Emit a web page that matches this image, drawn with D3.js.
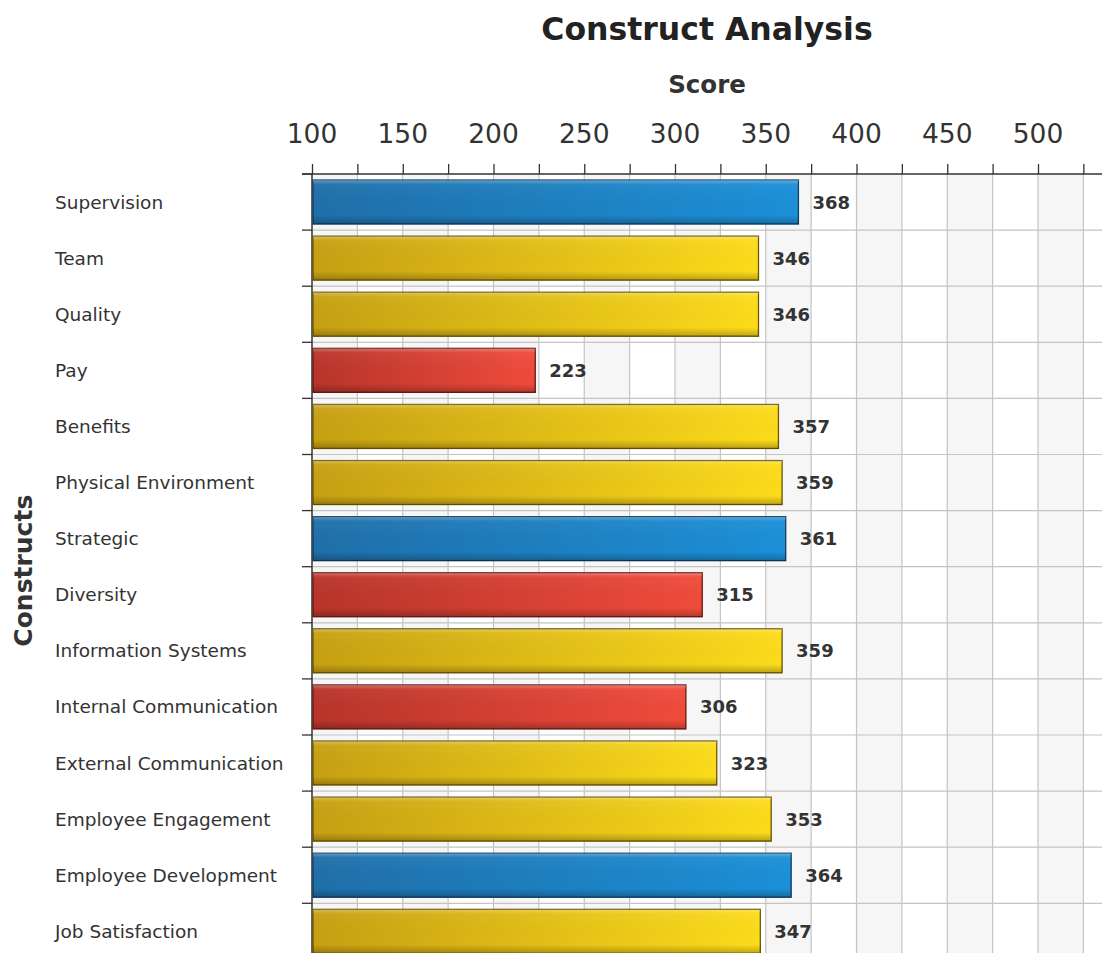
<!DOCTYPE html>
<html><head><meta charset="utf-8">
<script src="https://cdn.jsdelivr.net/npm/d3@7"></script>
<style>html,body{margin:0;padding:0;background:#fff;overflow:hidden}</style>
</head><body><svg id="c" width="1102" height="953"></svg>
<script>
const categories = ["Supervision","Team","Quality","Pay","Benefits","Physical Environment","Strategic","Diversity","Information Systems","Internal Communication","External Communication","Employee Engagement","Employee Development","Job Satisfaction"];
const scores = [368,346,346,223,357,359,361,315,359,306,323,353,364,347];
const colorGroups = ["blue","yellow","yellow","red","yellow","yellow","blue","red","yellow","red","yellow","yellow","blue","yellow"];
const xTicks = [100,125,150,175,200,225,250,275,300,325,350,375,400,425,450,475,500,525];
const xTickLabels = [100,150,200,250,300,350,400,450,500];
const chartTitle = "Construct Analysis", xTitle = "Score", yTitle = "Constructs";

const svg = d3.select("#c");
const F = "'DejaVu Sans', Verdana, sans-serif";
const pLeft = 312, pTop = 174, step = 56.1;
const x = d3.scaleLinear().domain([100, 540]).range([pLeft, pLeft + 440 * 1.815]);
const y = d3.scaleBand().domain(categories).range([pTop, pTop + step * categories.length]).paddingInner(0.216).paddingOuter(0.108);
const pRight = 1102, pBottom = 953;

const palette = {
  blue:   {l:"#1f6fa9", r:"#1b90d8", s:"#0e3b60"},
  yellow: {l:"#c6a012", r:"#fcdc1a", s:"#6a5500"},
  red:    {l:"#b8342a", r:"#f04b3b", s:"#6a1810"}
};
const defs = svg.append("defs");
Object.entries(palette).forEach(([k, c]) => {
  const g = defs.append("linearGradient").attr("id", "g-" + k).attr("x1", 0).attr("x2", 1).attr("y1", 0).attr("y2", 0);
  g.append("stop").attr("offset", 0).attr("stop-color", c.l);
  g.append("stop").attr("offset", 1).attr("stop-color", c.r);
});
const bev = defs.append("linearGradient").attr("id", "bevel").attr("x1", 0).attr("x2", 0).attr("y1", 0).attr("y2", 1);
bev.append("stop").attr("offset", 0).attr("stop-color", "#fff").attr("stop-opacity", 0.3);
bev.append("stop").attr("offset", 0.1).attr("stop-color", "#fff").attr("stop-opacity", 0.04);
bev.append("stop").attr("offset", 0.8).attr("stop-color", "#000").attr("stop-opacity", 0);
bev.append("stop").attr("offset", 1).attr("stop-color", "#000").attr("stop-opacity", 0.25);

// alternating column bands
const bands = svg.append("g");
for (let i = 0; i < xTicks.length; i++) {
  if ((xTicks[i] - 100) % 50 === 0) {
    const x0 = x(xTicks[i]), x1 = Math.min(x(xTicks[i] + 25), pRight);
    bands.append("rect").attr("x", x0).attr("y", pTop).attr("width", x1 - x0).attr("height", pBottom - pTop).attr("fill", "#f6f6f6");
  }
}
// vertical grid
svg.append("g").selectAll("line").data(xTicks.slice(1)).join("line")
  .attr("x1", d => x(d)).attr("x2", d => x(d)).attr("y1", pTop).attr("y2", pBottom)
  .attr("stroke", "#c4c4c4").attr("stroke-width", 1.2);
// horizontal grid at band boundaries
const bounds = categories.map((c, i) => pTop + i * y.step()).concat([pTop + categories.length * y.step()]);
svg.append("g").selectAll("line").data(bounds.slice(1)).join("line")
  .attr("x1", pLeft).attr("x2", pRight).attr("y1", d => d).attr("y2", d => d)
  .attr("stroke", "#c4c4c4").attr("stroke-width", 1.2);

// top axis
const ax = svg.append("g").attr("transform", `translate(0,${pTop})`)
  .call(d3.axisTop(x).tickValues(xTicks).tickSize(10).tickFormat(""));
ax.select(".domain").remove();
ax.selectAll("line").attr("stroke", "#333").attr("stroke-width", 1.3);
svg.append("line").attr("x1", pLeft - 10).attr("x2", pRight).attr("y1", pTop).attr("y2", pTop).attr("stroke", "#333").attr("stroke-width", 1.5);
svg.append("g").selectAll("text").data(xTickLabels).join("text")
  .attr("x", d => x(d)).attr("y", 143).attr("text-anchor", "middle")
  .attr("font-family", F).attr("font-size", 26.5).attr("fill", "#333").text(d => d);

// left axis
svg.append("line").attr("x1", pLeft).attr("x2", pLeft).attr("y1", pTop).attr("y2", pBottom).attr("stroke", "#333").attr("stroke-width", 1.5);
svg.append("g").selectAll("line").data(bounds).join("line")
  .attr("x1", pLeft - 10).attr("x2", pLeft).attr("y1", d => d).attr("y2", d => d).attr("stroke", "#333").attr("stroke-width", 1.3);
svg.append("g").selectAll("text").data(categories).join("text")
  .attr("x", 55).attr("y", d => y(d) + y.bandwidth() / 2).attr("dy", "0.35em")
  .attr("font-family", F).attr("font-size", 18.5).attr("fill", "#333").text(d => d);

// bars
const bars = svg.append("g").selectAll("g").data(categories).join("g");
bars.append("rect").attr("x", x(100) + 1).attr("y", d => y(d))
  .attr("width", (d, i) => x(scores[i]) - x(100) - 1).attr("height", y.bandwidth())
  .attr("fill", (d, i) => `url(#g-${colorGroups[i]})`)
  .attr("stroke", (d, i) => palette[colorGroups[i]].s).attr("stroke-width", 1.3);
bars.append("rect").attr("x", x(100) + 1).attr("y", d => y(d))
  .attr("width", (d, i) => x(scores[i]) - x(100) - 1).attr("height", y.bandwidth())
  .attr("fill", "url(#bevel)");
bars.append("text").attr("x", (d, i) => x(scores[i]) + 14).attr("y", d => y(d) + y.bandwidth() / 2).attr("dy", "0.36em")
  .attr("font-family", F).attr("font-weight", "bold").attr("font-size", 18).attr("fill", "#333")
  .text((d, i) => scores[i]);

// titles
const cx = (pLeft + pRight) / 2;
svg.append("text").attr("x", cx).attr("y", 40).attr("text-anchor", "middle")
  .attr("font-family", F).attr("font-weight", "bold").attr("font-size", 31.5).attr("fill", "#222").text(chartTitle);
svg.append("text").attr("x", cx).attr("y", 93).attr("text-anchor", "middle")
  .attr("font-family", F).attr("font-weight", "bold").attr("font-size", 24.5).attr("fill", "#333").text(xTitle);
svg.append("text").attr("transform", `translate(32,${(pTop + pTop + step * 14) / 2 + 4}) rotate(-90)`).attr("text-anchor", "middle")
  .attr("font-family", F).attr("font-weight", "bold").attr("font-size", 25).attr("fill", "#333").text(yTitle);
</script></body></html>
